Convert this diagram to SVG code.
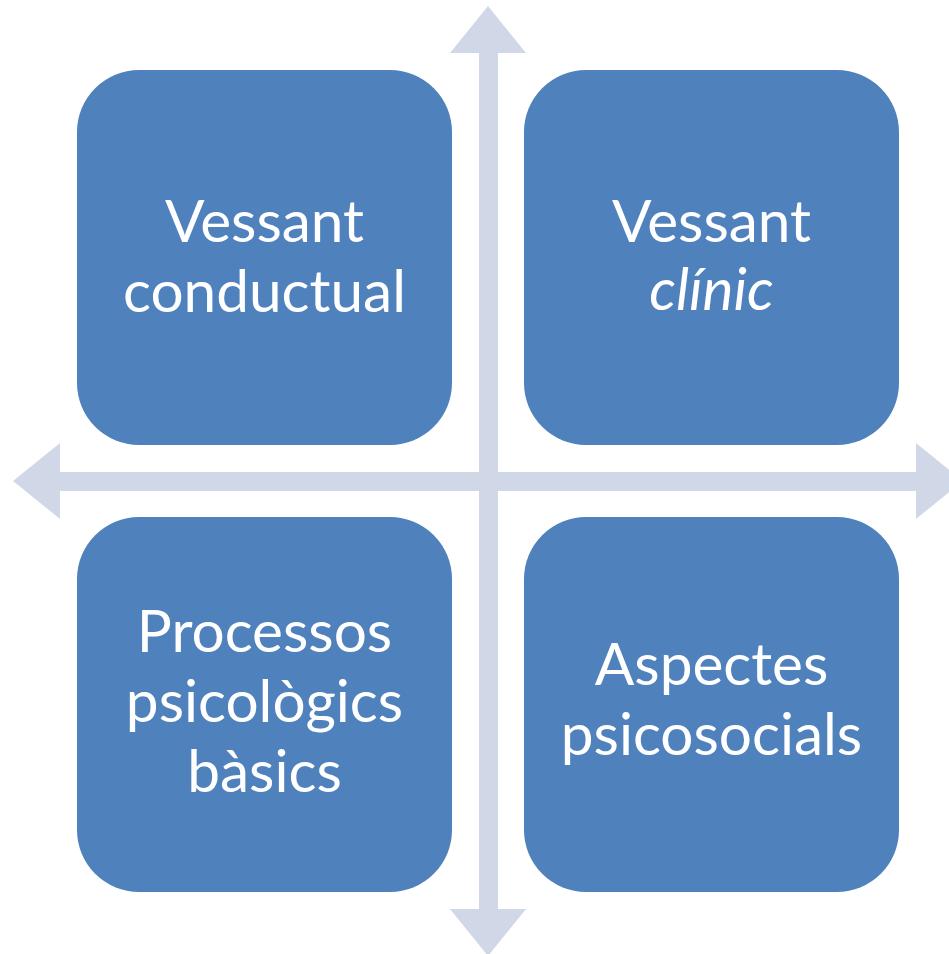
<svg xmlns="http://www.w3.org/2000/svg" width="949" height="954" viewBox="0 0 949 954">
<style>
.box{fill:#4F81BD}
.arrow{fill:#D0D8E8}
.t{font-family:Lato,"Liberation Sans",sans-serif;font-size:58.5px;fill:#FFFFFF;text-anchor:middle}
.i{font-style:italic}
</style>
<rect width="949" height="954" fill="#FFFFFF"/>
<g id="connectors">
<polygon class="arrow" points="13,481 60,443 60,472 916,472 916,443 963,481 916,519 916,491 60,491 60,519"/>
<polygon class="arrow" points="488,6 526,53 498,53 498,909 526,909 488,956 450,909 479,909 479,53 450,53"/>
</g>
<g id="node-conductual">
<rect class="box" x="77" y="70" width="375" height="375" rx="62" ry="62"/>
<text class="t" x="264.5" y="242">Vessant</text>
<text class="t" x="264.5" y="312">conductual</text>
</g>
<g id="node-clinic">
<rect class="box" x="524" y="70" width="375" height="375" rx="62" ry="62"/>
<text class="t" x="711.5" y="242">Vessant</text>
<text class="t i" x="711.5" y="310">clínic</text>
</g>
<g id="node-processos">
<rect class="box" x="77" y="517" width="375" height="375" rx="62" ry="62"/>
<text class="t" x="264.5" y="652">Processos</text>
<text class="t" x="264.5" y="722">psicològics</text>
<text class="t" x="264.5" y="792">bàsics</text>
</g>
<g id="node-aspectes">
<rect class="box" x="524" y="517" width="375" height="375" rx="62" ry="62"/>
<text class="t" x="711.5" y="685">Aspectes</text>
<text class="t" x="711.5" y="755">psicosocials</text>
</g>
</svg>
